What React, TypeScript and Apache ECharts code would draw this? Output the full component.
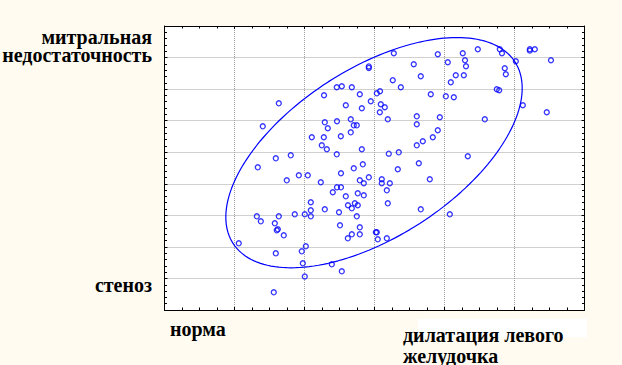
import { useEffect, useRef } from 'react';
import * as echarts from 'echarts';

// horizontal value (норма → дилатация левого желудочка)
const dilatation = [
  1.633, 1.404, 2.104, 1.804, 1.590, 1.333, 1.919, 2.047, 1.747, 3.276,
  3.904, 4.047, 3.561, 2.919, 2.919, 3.661, 3.261, 3.376, 2.461, 2.533,
  2.676, 2.279, 2.790, 3.033, 3.079, 3.804, 4.019, 2.590, 2.947, 2.819,
  3.090, 3.147, 3.076, 3.604, 3.933, 2.661, 3.190, 2.290, 2.464, 2.704,
  2.747, 3.604, 2.333, 2.661, 3.904, 2.276, 2.519, 3.833, 3.690, 2.247,
  3.604, 2.319, 2.819, 2.461, 3.204, 3.347, 2.833, 3.633, 2.704, 3.333,
  2.521, 2.790, 2.919, 3.104, 3.790, 4.476, 4.261, 4.790, 4.821, 5.219,
  5.219, 5.290, 4.293, 5.019, 5.521, 4.307, 4.861, 4.876, 4.161, 4.276,
  4.090, 4.747, 4.781, 4.133, 5.119, 5.461, 4.576, 4.333, 1.319, 1.376,
  1.633, 1.861, 2.004, 1.576, 1.604, 1.619, 1.704, 1.061, 1.590, 1.961,
  2.019, 1.976, 2.004, 1.561, 2.090, 2.090, 2.090, 2.233, 2.847, 3.104,
  3.219, 2.464, 2.521, 2.404, 2.590, 2.761, 2.847, 3.176, 2.621, 2.719,
  2.761, 2.676, 3.190, 2.290, 2.493, 2.747, 3.661, 2.507, 2.790, 2.790,
  2.676, 2.619, 3.019, 3.033, 3.047, 3.176, 2.390, 2.533, 4.076,
];

// vertical value (стеноз → митральная недостаточность)
const insufficiency = [
  6.551, 5.822, 5.474, 4.903, 4.808, 4.523, 4.269, 4.269, 4.111, 8.136,
  8.105, 7.851, 7.788, 7.718, 7.670, 7.407, 7.281, 7.059, 7.059, 7.090,
  7.059, 6.805, 6.837, 6.868, 6.932, 6.837, 6.773, 6.488, 6.615, 6.393,
  6.520, 6.425, 6.266, 6.139, 6.108, 6.044, 6.044, 5.949, 5.981, 5.854,
  5.854, 5.886, 5.759, 5.632, 5.696, 5.474, 5.506, 5.474, 5.347, 5.220,
  5.220, 5.094, 5.094, 4.935, 4.954, 4.998, 4.618, 4.650, 4.491, 4.460,
  4.333, 4.111, 4.206, 4.143, 4.143, 8.263, 8.136, 8.263, 8.136, 8.263,
  8.219, 8.263, 7.914, 7.883, 7.914, 7.724, 7.661, 7.471, 7.439, 7.439,
  7.217, 6.995, 6.964, 6.742, 6.488, 6.266, 6.044, 4.872, 2.970, 2.811,
  2.970, 3.033, 3.033, 2.748, 2.526, 2.558, 2.368, 2.114, 1.797, 1.861,
  2.019, 1.480, 1.062, 0.561, 3.414, 3.160, 2.970, 4.048, 4.016, 4.016,
  4.016, 3.889, 3.889, 3.731, 3.604, 3.699, 3.635, 3.794, 3.319, 3.382,
  3.319, 3.223, 3.382, 3.192, 3.097, 2.970, 3.192, 2.685, 2.621, 2.399,
  2.399, 2.273, 2.463, 2.463, 2.241, 2.273, 1.448, 1.227, 3.033,
];

const xRange = [0, 6];
const yRange = [0, 9];

// 95% normal ellipse
const ellipseCenter = [2.993, 4.986];
const ellipseSpread = [2.117, 3.648];
const ellipseCorrelation = 0.56;
const ellipseSteps = 180;

const yLabelTop = ['митральная', 'недостаточность'];
const yLabelBottom = ['стеноз'];
const xLabelLeft = ['норма'];
const xLabelRight = ['дилатация левого', 'желудочка'];

export default function App() {
  const ref = useRef<HTMLDivElement>(null);

  useEffect(() => {
    if (!ref.current) return;
    const chart = echarts.init(ref.current, null, { renderer: 'svg' });

    const points = dilatation.map((x, i) => [x, insufficiency[i]]);
    const ell: number[][] = [];
    const k = Math.sqrt(1 - ellipseCorrelation * ellipseCorrelation);
    for (let i = 0; i <= ellipseSteps; i++) {
      const t = (i / ellipseSteps) * Math.PI * 2;
      ell.push([
        ellipseCenter[0] + ellipseSpread[0] * Math.cos(t),
        ellipseCenter[1] + ellipseSpread[1] * (ellipseCorrelation * Math.cos(t) + k * Math.sin(t)),
      ]);
    }

    const tick = { show: true, inside: true, length: 3, lineStyle: { color: '#000', width: 1 } };
    const line = { show: true, onZero: false, lineStyle: { color: '#000', width: 1 } };
    const grid = { show: true, lineStyle: { color: '#a0a0a0', width: 1, type: [1, 1] } };

    const xBase = {
      type: 'value', min: xRange[0], max: xRange[1], interval: 1,
      axisLine: line, axisTick: tick,
      minorTick: { show: true, splitNumber: 4, length: 2.5, lineStyle: { color: '#000', width: 1 } },
      axisLabel: { show: false },
    };
    const yBase = {
      type: 'value', min: yRange[0], max: yRange[1], interval: 1,
      axisLine: line, axisTick: tick,
      minorTick: { show: true, splitNumber: 5, length: 2.5, lineStyle: { color: '#000', width: 1 } },
      axisLabel: { show: false },
    };

    const label = (x: number, y: number, text: string, align: string) => ({
      type: 'text',
      x, y,
      scaleY: 1.1,
      silent: true,
      style: {
        text,
        fill: '#000',
        fontFamily: 'Liberation Serif',
        fontWeight: 'bold',
        fontSize: 20,
        align,
        verticalAlign: 'middle',
      },
    });

    chart.setOption({
      animation: false,
      backgroundColor: '#FFFBF0',
      grid: { left: 164.5, top: 26, width: 420, height: 284, show: true, backgroundColor: '#ffffff', borderWidth: 0 },
      xAxis: [
        { ...xBase, position: 'bottom', splitLine: grid },
        { ...xBase, position: 'top', splitLine: { show: false } },
      ],
      yAxis: [
        { ...yBase, position: 'left', splitLine: grid },
        { ...yBase, position: 'right', splitLine: { show: false } },
      ],
      graphic: [
        { type: 'rect', shape: { x: 418, y: 319, width: 169, height: 18 }, style: { fill: '#ffffff' }, silent: true, z: -1 },
        label(152, 37, yLabelTop[0], 'right'),
        label(152, 55, yLabelTop[1], 'right'),
        label(152, 285, yLabelBottom[0], 'right'),
        label(170, 329, xLabelLeft[0], 'left'),
        label(403, 335, xLabelRight[0], 'left'),
        label(403, 356, xLabelRight[1], 'left'),
      ],
      series: [
        {
          type: 'line',
          data: ell,
          showSymbol: false,
          symbol: 'none',
          silent: true,
          lineStyle: { color: '#0000ff', width: 1.2 },
          z: 2,
        },
        {
          type: 'scatter',
          data: points,
          symbol: 'circle',
          symbolSize: 5,
          silent: true,
          itemStyle: { color: 'rgba(0,0,0,0)', borderColor: '#0000ff', borderWidth: 1.3 },
          z: 3,
        },
      ],
    });

    return () => chart.dispose();
  }, []);

  return <div ref={ref} style={{ position: 'fixed', left: 0, top: 0, width: 622, height: 365 }} />;
}
